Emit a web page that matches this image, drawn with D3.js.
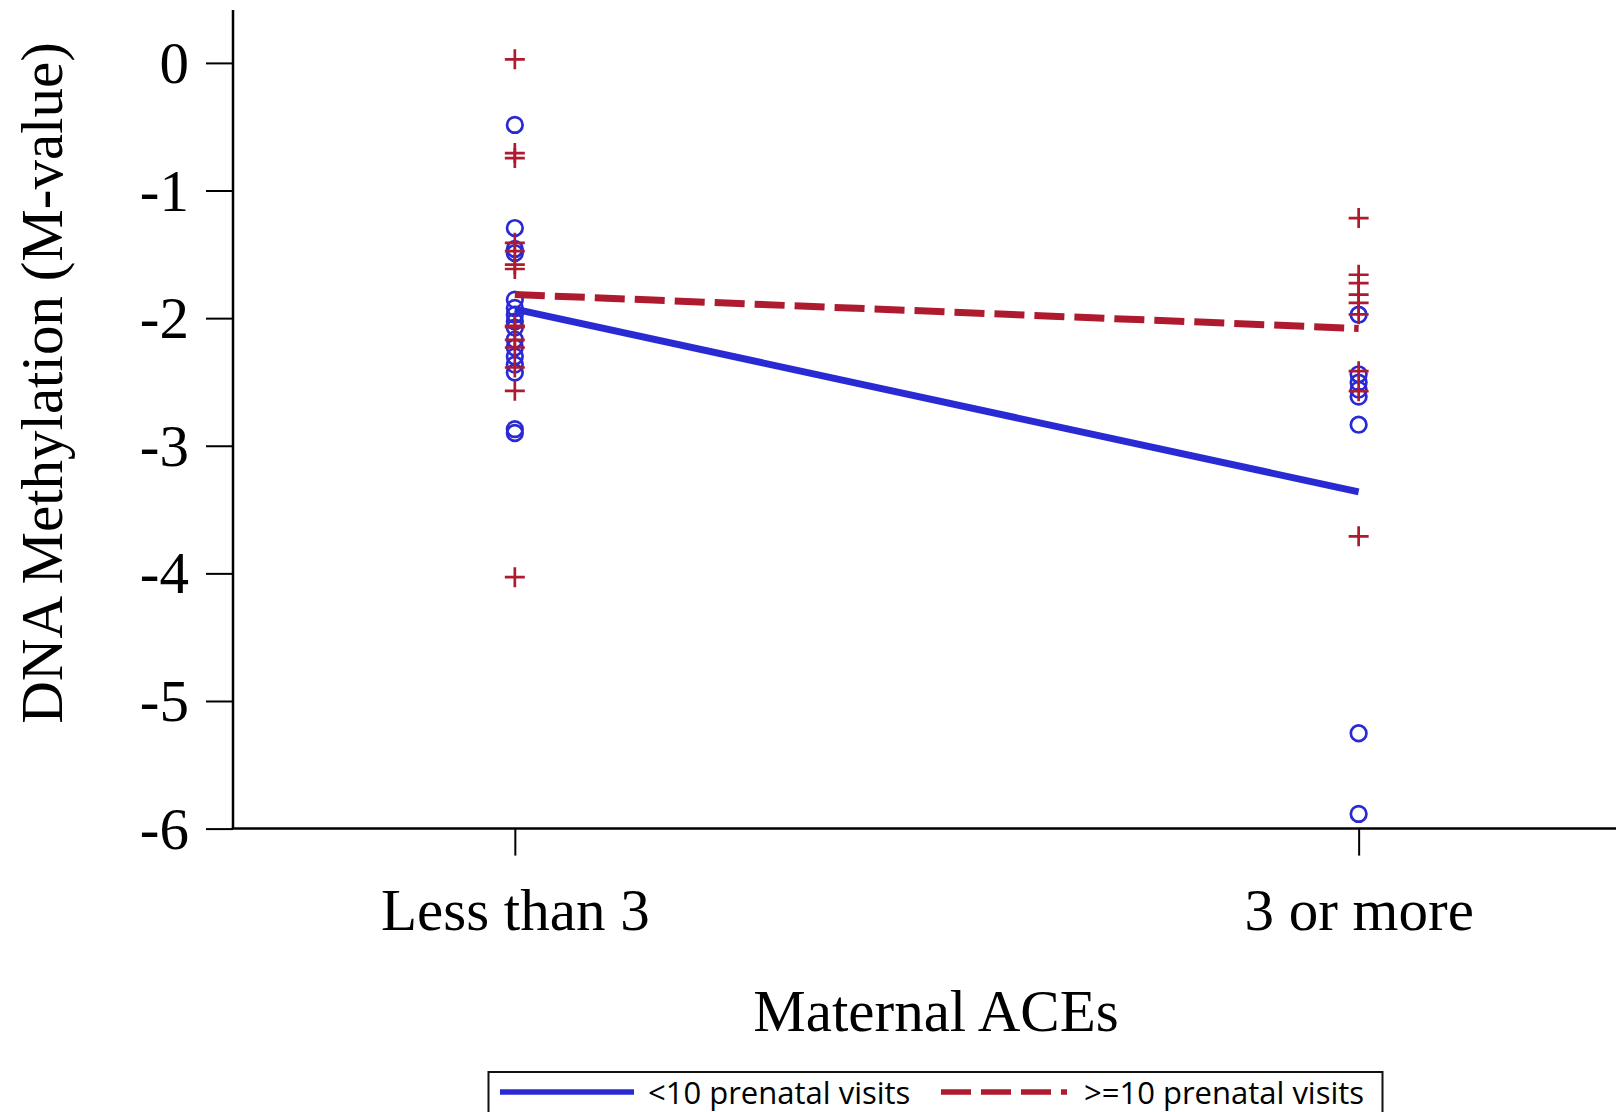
<!DOCTYPE html>
<html>
<head>
<meta charset="utf-8">
<script src="https://cdn.jsdelivr.net/npm/d3@7"></script>
<style>
  html, body { margin: 0; padding: 0; background: #fff; }
  svg { display: block; }
</style>
</head>
<body>
<svg id="chart" width="1616" height="1112"></svg>
<script>
// ---- Data ----
const categories = ["Less than 3", "3 or more"];
const yTickValues = [0, -1, -2, -3, -4, -5, -6];
const seriesNames = ["<10 prenatal visits", ">=10 prenatal visits"];

// <10 prenatal visits (blue circles)
const lowVisitsLessThan3 = [-0.486, -1.294, -1.458, -1.49, -1.855, -1.92, -1.973, -2.027, -2.074,
  -2.168, -2.23, -2.30, -2.364, -2.426, -2.87, -2.90];
const lowVisits3OrMore = [-1.973, -2.44, -2.505, -2.56, -2.615, -2.835, -5.253, -5.885];

// >=10 prenatal visits (red pluses)
const highVisitsLessThan3 = [0.028, -0.707, -0.746, -1.41, -1.475, -1.58, -1.615, -2.06, -2.07,
  -2.17, -2.23, -2.387, -2.57, -4.03];
const highVisits3OrMore = [-1.216, -1.66, -1.725, -1.816, -1.881, -1.97, -2.416, -2.573, -3.71];

// fitted lines
const lowVisitsFit = [-1.93, -3.362];
const highVisitsFit = [-1.815, -2.081];

// ---- Style ----
const BLUE = "#2a2ad4";
const RED = "#ae1a2e";
const SERIF = "'Liberation Serif', 'Times New Roman', serif";

const svg = d3.select("#chart");

const x = d3.scaleLinear().domain([-0.334, 1.305]).range([233, 1616]);
const y = d3.scaleLinear().domain([-6, 0]).range([828.6, 62.9]);

// axes lines
svg.append("line").attr("x1", x.range()[0]).attr("x2", x.range()[0])
  .attr("y1", 10).attr("y2", y(-6))
  .attr("stroke", "#000").attr("stroke-width", 2.5);
svg.append("line").attr("x1", x.range()[0] - 1.25).attr("x2", x.range()[1])
  .attr("y1", y(-6)).attr("y2", y(-6))
  .attr("stroke", "#000").attr("stroke-width", 2.5);

// y axis
const yAxis = d3.axisLeft(y).tickValues(yTickValues).tickSize(27).tickPadding(17)
  .tickFormat(d => d3.format("d")(d).replace("−", "-"));
const gy = svg.append("g").attr("transform", `translate(${x.range()[0]},0)`).call(yAxis);
gy.select(".domain").remove();
gy.selectAll(".tick line").attr("stroke", "#000").attr("stroke-width", 2);
gy.selectAll(".tick text").attr("font-family", SERIF).attr("font-size", 59)
  .attr("fill", "#000").attr("dy", "0.33em");

// x axis
const xAxis = d3.axisBottom(x).tickValues([0, 1]).tickSize(27).tickPadding(0)
  .tickFormat(i => categories[i]);
const gx = svg.append("g").attr("transform", `translate(0,${y(-6)})`).call(xAxis);
gx.select(".domain").remove();
gx.selectAll(".tick line").attr("stroke", "#000").attr("stroke-width", 2);
gx.selectAll(".tick text").attr("font-family", SERIF).attr("font-size", 59)
  .attr("fill", "#000").attr("dy", null).attr("y", 101);

// axis titles
svg.append("text").attr("x", 936).attr("y", 1030.5).attr("text-anchor", "middle")
  .attr("font-family", SERIF).attr("font-size", 59).attr("fill", "#000")
  .text("Maternal ACEs");
svg.append("text").attr("transform", "translate(62,383) rotate(-90)")
  .attr("text-anchor", "middle").attr("font-family", SERIF).attr("font-size", 59)
  .attr("fill", "#000").text("DNA Methylation (M-value)");

// points
const circlePts = lowVisitsLessThan3.map(v => ({ c: 0, v }))
  .concat(lowVisits3OrMore.map(v => ({ c: 1, v })));
const plusPts = highVisitsLessThan3.map(v => ({ c: 0, v }))
  .concat(highVisits3OrMore.map(v => ({ c: 1, v })));

svg.append("g").selectAll("circle").data(circlePts).join("circle")
  .attr("cx", d => x(d.c)).attr("cy", d => y(d.v)).attr("r", 7.8)
  .attr("fill", "none").attr("stroke", BLUE).attr("stroke-width", 2.7);

const plusG = svg.append("g").attr("stroke", RED).attr("stroke-width", 2.7);
plusG.selectAll("path").data(plusPts).join("path")
  .attr("d", d => {
    const cx = x(d.c), cy = y(d.v), h = 10;
    return `M${cx - h},${cy}H${cx + h}M${cx},${cy - h}V${cy + h}`;
  });

// fitted lines
const line = d3.line().x((d, i) => x(i)).y(d => y(d));
svg.append("path").datum(lowVisitsFit).attr("d", line)
  .attr("fill", "none").attr("stroke", BLUE).attr("stroke-width", 7);
svg.append("path").datum(highVisitsFit).attr("d", line)
  .attr("fill", "none").attr("stroke", RED).attr("stroke-width", 7)
  .attr("stroke-dasharray", "30 10");

// legend
const lg = svg.append("g");
lg.append("rect").attr("x", 488.5).attr("y", 1072).attr("width", 894).attr("height", 60)
  .attr("fill", "#fff").attr("stroke", "#111").attr("stroke-width", 2);
lg.append("line").attr("x1", 500).attr("x2", 634).attr("y1", 1092).attr("y2", 1092)
  .attr("stroke", BLUE).attr("stroke-width", 5.5);
lg.append("text").attr("x", 648).attr("y", 1104)
  .attr("font-family", "'Open Sans', sans-serif").attr("font-size", 31).attr("fill", "#000")
  .text(seriesNames[0]);
lg.append("line").attr("x1", 941).attr("x2", 1067).attr("y1", 1092).attr("y2", 1092)
  .attr("stroke", RED).attr("stroke-width", 5.5).attr("stroke-dasharray", "30 10");
lg.append("text").attr("x", 1084).attr("y", 1104)
  .attr("font-family", "'Open Sans', sans-serif").attr("font-size", 31).attr("fill", "#000")
  .text(seriesNames[1]);
</script>
</body>
</html>
